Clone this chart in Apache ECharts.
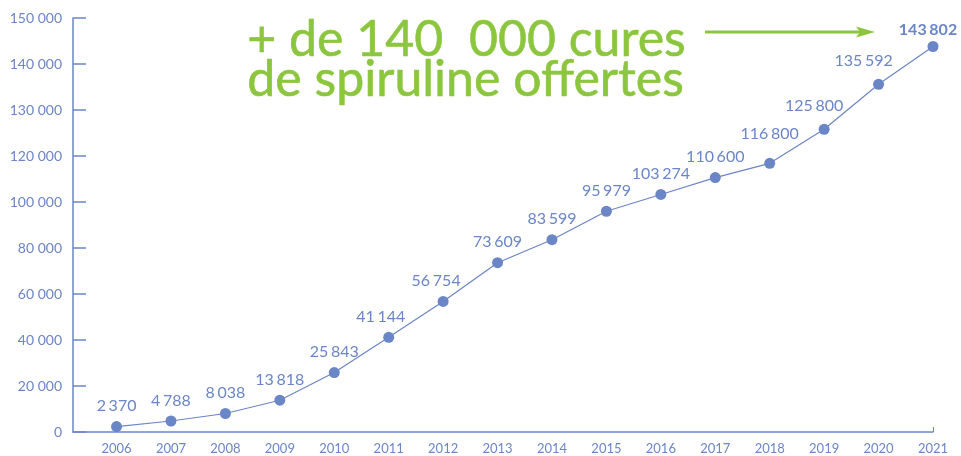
<!DOCTYPE html>
<html>
<head>
<meta charset="utf-8">
<script src="https://cdn.jsdelivr.net/npm/echarts@6/dist/echarts.min.js"></script>
<style>
  html, body { margin: 0; padding: 0; background: #fff; }
  #chart { width: 961px; height: 456px; }
</style>
</head>
<body>
<div id="chart"></div>
<script>
// données
const years = [2006, 2007, 2008, 2009, 2010, 2011, 2012, 2013, 2014, 2015, 2016, 2017, 2018, 2019, 2020, 2021];
const cures = [2370, 4788, 8038, 13818, 25843, 41144, 56754, 73609, 83599, 95979, 103274, 110600, 116800, 125800, 135592, 143802];
// graduations de l'axe (espacées régulièrement, pas linéaires)
const yTicks = [0, 20000, 40000, 60000, 80000, 100000, 120000, 130000, 140000, 150000];

const blue = '#6b86c6';
const green = '#8cc63f';
const font = 'Lato';

// valeur -> position sur l'axe (par morceaux entre les graduations)
function toAxis(v) {
  for (let i = 1; i < yTicks.length; i++) {
    if (v <= yTicks[i]) {
      return i - 1 + (v - yTicks[i - 1]) / (yTicks[i] - yTicks[i - 1]);
    }
  }
  return yTicks.length - 1;
}
function fmt(v, sep) {
  return String(v).replace(/\B(?=(\d{3})+(?!\d))/g, sep || ' ');
}

// petits décalages d'étiquettes comme sur l'original
const labelShift = { 2011: [-8, 0], 2012: [-7, 0], 2018: [0, -9], 2019: [-10, -3], 2020: [-15, -3] };

const seriesData = years.map((y, i) => {
  const item = { value: [y, toAxis(cures[i])], raw: cures[i] };
  if (labelShift[y]) {
    item.label = { offset: labelShift[y] };
  }
  if (i === years.length - 1) {
    item.label = { fontWeight: 'bold', offset: [-5, 4] };
  }
  return item;
});

const chart = echarts.init(document.getElementById('chart'));
chart.setOption({
  animation: false,
  grid: { left: 73, right: 28, top: 18, bottom: 24 },
  xAxis: {
    type: 'value',
    min: 2005.2,
    max: 2021,
    splitLine: { show: false },
    axisLine: { show: true, lineStyle: { color: blue, width: 1.5 } },
    axisTick: { show: true, customValues: [2021], inside: true, length: 5, lineStyle: { color: blue } },
    axisLabel: {
      customValues: years,
      color: blue,
      fontFamily: font,
      fontSize: 13,
      margin: 10,
      formatter: v => String(v)
    }
  },
  yAxis: {
    type: 'value',
    min: 0,
    max: yTicks.length - 1,
    interval: 1,
    splitLine: { show: false },
    axisLine: { show: true, lineStyle: { color: blue, width: 1.5 } },
    axisTick: { show: true, inside: true, length: 13, lineStyle: { color: blue, width: 1.5 } },
    axisLabel: {
      color: blue,
      fontFamily: font,
      fontSize: 14,
      margin: 11,
      formatter: v => fmt(yTicks[Math.round(v)])
    }
  },
  series: [{
    type: 'line',
    data: seriesData,
    symbol: 'circle',
    symbolSize: 11,
    itemStyle: { color: blue },
    lineStyle: { color: blue, width: 1.2 },
    label: {
      show: true,
      position: 'top',
      distance: 7,
      color: blue,
      fontFamily: font,
      fontSize: 16,
      formatter: p => fmt(p.data.raw, '\u2006')
    }
  }],
  graphic: [
    {
      type: 'text',
      left: 247, top: 15,
      style: { text: '+ de 140  000 cures', font: '50px Lato', fill: green, stroke: green, lineWidth: 0.6 }
    },
    {
      type: 'text',
      left: 247, top: 55,
      style: { text: 'de spiruline offertes', font: '50px Lato', fill: green, stroke: green, lineWidth: 0.6 }
    },
    {
      type: 'line',
      shape: { x1: 705, y1: 32, x2: 862, y2: 32 },
      style: { stroke: green, lineWidth: 3 }
    },
    {
      type: 'polygon',
      shape: { points: [[856, 26.5], [875, 32], [856, 37.5], [860, 32]] },
      style: { fill: green }
    }
  ]
});
</script>
</body>
</html>
